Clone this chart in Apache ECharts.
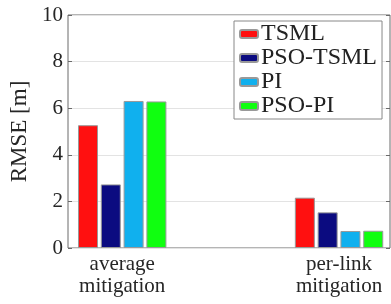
<!DOCTYPE html>
<html><head><meta charset="utf-8">
<script src="https://cdn.jsdelivr.net/npm/echarts@6/dist/echarts.min.js"></script>
<style>html,body{margin:0;padding:0;background:#fff}#c{width:391px;height:304px}</style>
</head><body><div id="c"></div>
<script>
const categories = ['average\nmitigation', 'per-link\nmitigation'];
const categoryPos = [1, 2];
const seriesNames = ['TSML', 'PSO-TSML', 'PI', 'PSO-PI'];
const tsml = [5.27, 2.16];
const psoTsml = [2.73, 1.53];
const pi = [6.31, 0.73];
const psoPi = [6.29, 0.74];
const yTicks = [0, 2, 4, 6, 8, 10];
const colors = ['#ff1010', '#0b0b80', '#10b0ee', '#10ff10'];

const values = [tsml, psoTsml, pi, psoPi];
const FONT = 'Liberation Serif';
const chart = echarts.init(document.getElementById('c'), null, {renderer: 'canvas'});
chart.setOption({
  animation: false,
  backgroundColor: '#fff',
  textStyle: {fontFamily: FONT},
  grid: {left: 68, right: 1, top: 15, bottom: 56, show: true, borderColor: '#6a6a6a', borderWidth: 1, backgroundColor: 'transparent'},
  legend: {
    left: 234, top: 21, orient: 'vertical',
    itemWidth: 18, itemHeight: 8, itemGap: 0,
    padding: [1, 5, 1, 5],
    borderColor: '#888', borderWidth: 1, backgroundColor: '#fff',
    textStyle: {fontFamily: FONT, fontSize: 24, color: '#222', lineHeight: 23, padding: [0, 0, 0, -2]},
    data: seriesNames
  },
  xAxis: {
    type: 'value', min: 0.75, max: 2.235, interval: 0.25,
    axisLine: {show: false}, axisTick: {show: false}, splitLine: {show: false},
    axisLabel: {
      fontFamily: FONT, fontSize: 21, color: '#262626', lineHeight: 22, margin: 5,
      showMinLabel: true, showMaxLabel: false,
      formatter: v => { const i = categoryPos.indexOf(Math.round(v * 100) / 100); return i >= 0 ? categories[i] : ''; }
    }
  },
  yAxis: [{
    type: 'value', min: yTicks[0], max: yTicks[yTicks.length - 1], interval: 2,
    name: 'RMSE [m]', nameLocation: 'middle', nameGap: 37,
    nameTextStyle: {fontFamily: FONT, fontSize: 23, color: '#262626'},
    axisLine: {show: false},
    axisTick: {show: true, inside: true, length: 4, lineStyle: {color: '#6a6a6a'}},
    splitLine: {show: true, lineStyle: {color: '#e3e3e3', width: 1}},
    axisLabel: {fontFamily: FONT, fontSize: 21, color: '#262626', margin: 5}
  }, {
    type: 'value', min: yTicks[0], max: yTicks[yTicks.length - 1], interval: 2, position: 'right',
    axisLine: {show: false}, axisLabel: {show: false}, splitLine: {show: false},
    axisTick: {show: true, inside: true, length: 4, lineStyle: {color: '#6a6a6a'}}
  }],
  series: seriesNames.map((n, k) => ({
    name: n, type: 'bar', barWidth: 20, barGap: '14%',
    itemStyle: {color: colors[k], borderColor: '#999', borderWidth: 1},
    data: categoryPos.map((x, i) => [x, values[k][i]])
  }))
});
</script></body></html>
